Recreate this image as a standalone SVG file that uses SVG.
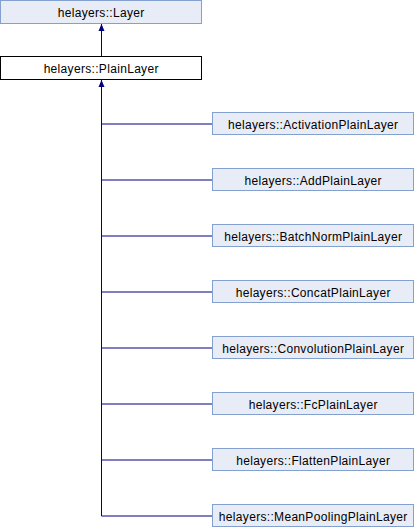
<svg xmlns="http://www.w3.org/2000/svg" width="414" height="528" viewBox="0 0 414 528">
<defs>
<style>
.n{fill:#E8ECF6;stroke:#84A0CE;stroke-width:1}
.m{fill:#FFFFFF;stroke:#000000;stroke-width:1}
.t{font-family:"Liberation Sans",Arial,sans-serif;font-size:12px;letter-spacing:0.32px;fill:#000;text-anchor:middle}
.e{fill:none;stroke:#000080;stroke-width:1}
</style>
<marker id="ah" markerWidth="8" markerHeight="8" refX="7" refY="4" orient="auto" markerUnits="userSpaceOnUse">
<path d="M0,1 L7,4 L0,7 Z" fill="#000080"/>
</marker>
</defs>
<rect width="414" height="528" fill="#FFFFFF"/>
<g id="connectors">
<path class="e" d="M101.5,56 L101.5,24" marker-end="url(#ah)"/>
<path class="e" d="M101.5,516 L101.5,80" marker-end="url(#ah)"/>
<path class="e" d="M101.5,124 H212"/>
<path class="e" d="M101.5,180 H212"/>
<path class="e" d="M101.5,236 H212"/>
<path class="e" d="M101.5,292 H212"/>
<path class="e" d="M101.5,348 H212"/>
<path class="e" d="M101.5,404 H212"/>
<path class="e" d="M101.5,460 H212"/>
<path class="e" d="M101.5,516 H212"/>
</g>
<g id="node-Layer"><rect class="n" x="0.5" y="0.5" width="201" height="23"/><text class="t" x="101.2" y="16.5">helayers::Layer</text></g>
<g id="node-PlainLayer"><rect class="m" x="0.5" y="56.5" width="201" height="23"/><text class="t" x="101.2" y="72.5">helayers::PlainLayer</text></g>
<g id="node-ActivationPlainLayer"><rect class="n" x="212.5" y="112.5" width="201" height="22"/><text class="t" x="313.2" y="129">helayers::ActivationPlainLayer</text></g>
<g id="node-AddPlainLayer"><rect class="n" x="212.5" y="168.5" width="201" height="22"/><text class="t" x="313.2" y="185">helayers::AddPlainLayer</text></g>
<g id="node-BatchNormPlainLayer"><rect class="n" x="212.5" y="224.5" width="201" height="22"/><text class="t" x="313.2" y="241">helayers::BatchNormPlainLayer</text></g>
<g id="node-ConcatPlainLayer"><rect class="n" x="212.5" y="280.5" width="201" height="22"/><text class="t" x="313.2" y="297">helayers::ConcatPlainLayer</text></g>
<g id="node-ConvolutionPlainLayer"><rect class="n" x="212.5" y="336.5" width="201" height="22"/><text class="t" x="313.2" y="353">helayers::ConvolutionPlainLayer</text></g>
<g id="node-FcPlainLayer"><rect class="n" x="212.5" y="392.5" width="201" height="22"/><text class="t" x="313.2" y="409">helayers::FcPlainLayer</text></g>
<g id="node-FlattenPlainLayer"><rect class="n" x="212.5" y="448.5" width="201" height="22"/><text class="t" x="313.2" y="465">helayers::FlattenPlainLayer</text></g>
<g id="node-MeanPoolingPlainLayer"><rect class="n" x="212.5" y="504.5" width="201" height="22"/><text class="t" x="313.2" y="521">helayers::MeanPoolingPlainLayer</text></g>
</svg>
